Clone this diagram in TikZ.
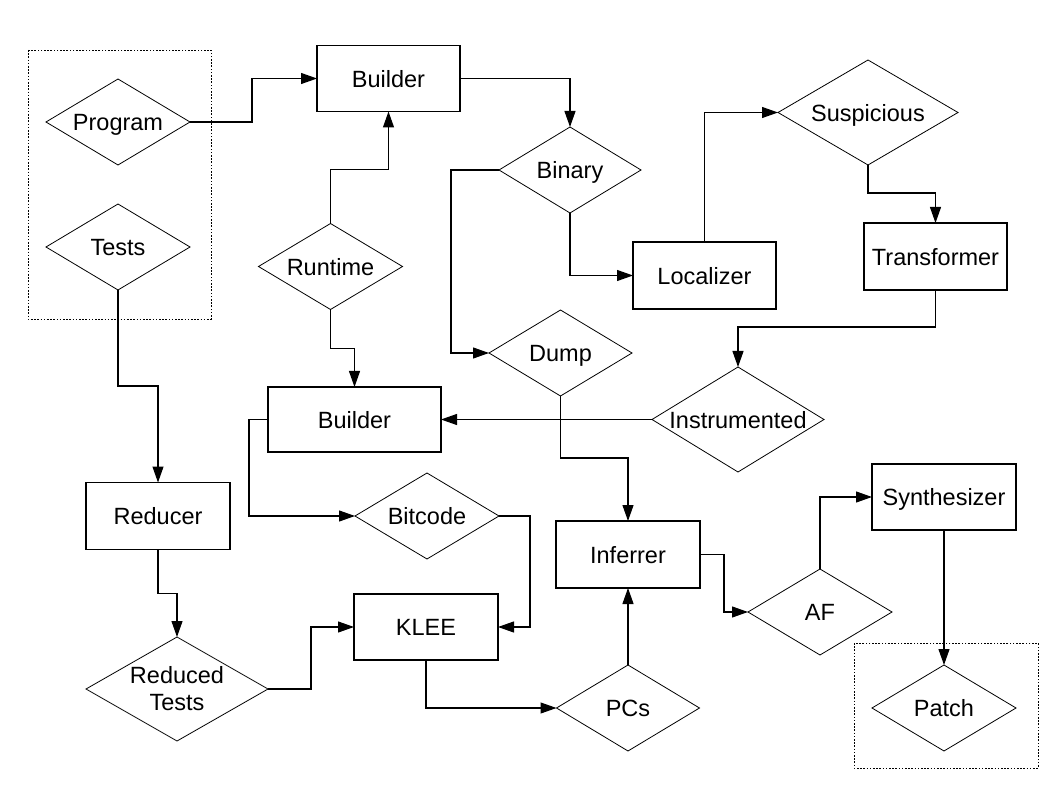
\documentclass[tikz,border=0pt]{standalone}
\usepackage{fontspec}
\setmainfont{Liberation Sans}
\usetikzlibrary{shapes.geometric,arrows.meta}
\tikzset{
  lbl/.style={font=\fontsize{23.5}{27}\selectfont, text=black},
  boxnode/.style={lbl, text depth=0pt, draw=black, line width=1.1pt, rectangle, inner sep=0pt, outer sep=0pt},
  dia/.style={lbl, text depth=0pt, draw=black, line width=0.8pt, diamond, aspect=1, inner sep=0pt, outer sep=0pt},
  dia2/.style={lbl, draw=black, line width=0.8pt, diamond, aspect=1, inner sep=0pt, outer sep=0pt},
  conn/.style={line width=1.1pt, -{Triangle[length=16pt,width=11pt]}},
  groupbox/.style={line width=0.8pt, dash pattern=on 1.6pt off 1.6pt}
}
\newcommand{\zt}[1]{\makebox[0pt]{#1}}
\begin{document}
\begin{tikzpicture}[x=1pt,y=-1pt]
\useasboundingbox (0,0) rectangle (1058,794);
% group boxes
\draw[groupbox] (28,50) rectangle (211,319);
\draw[groupbox] (854,643) rectangle (1038,768);
% nodes
\node[dia, minimum width=144, minimum height=86] (prog) at (118,122) {\zt{Program}};
\node[dia, minimum width=144, minimum height=86] (tests) at (118,247) {\zt{Tests}};
\node[boxnode, minimum width=143, minimum height=66] (b1) at (388.5,78.5) {Builder};
\node[dia, minimum width=142, minimum height=86] (bin) at (570,170) {\zt{Binary}};
\node[dia, minimum width=180, minimum height=105] (susp) at (868,112.5) {\zt{Suspicious}};
\node[boxnode, minimum width=143, minimum height=67] (loc) at (704.5,275.5) {Localizer};
\node[boxnode, minimum width=143, minimum height=67] (trans) at (935.5,256.5) {Transformer};
\node[dia, minimum width=144, minimum height=86] (rt) at (330.5,266.5) {\zt{Runtime}};
\node[dia, minimum width=143, minimum height=86] (dump) at (560.5,353) {\zt{Dump}};
\node[boxnode, minimum width=173, minimum height=65] (b2) at (354.5,419.5) {Builder};
\node[dia, minimum width=172, minimum height=105] (instr) at (738,419.5) {\zt{Instrumented}};
\node[boxnode, minimum width=144, minimum height=67] (red) at (158,516) {Reducer};
\node[dia, minimum width=144, minimum height=86] (bit) at (427,516) {\zt{Bitcode}};
\node[boxnode, minimum width=144, minimum height=67] (inf) at (628,554.5) {Inferrer};
\node[boxnode, minimum width=144, minimum height=66] (syn) at (944,497) {Synthesizer};
\node[dia, minimum width=144, minimum height=86] (af) at (820,612) {\zt{AF}};
\node[boxnode, minimum width=144, minimum height=66] (klee) at (426,627) {KLEE};
\node[dia2, minimum width=182, minimum height=104] (rtests) at (177,689) {\zt{\raisebox{-8.5pt}[0pt][0pt]{\begin{tabular}{@{}c@{}}Reduced\\Tests\end{tabular}}}};
\node[dia, minimum width=143, minimum height=86] (pcs) at (628,708) {\zt{PCs}};
\node[dia, minimum width=144, minimum height=86] (patch) at (944,708) {\zt{Patch}};
% connectors
\draw[conn] (prog.east) -- ++(62,0) |- (b1.west);
\draw[conn] (b1.east) -| (bin.north);
\draw[conn] (bin.west) -- ++(-48,0) |- (dump.west);
\draw[conn] (bin.south) |- (loc.west);
\draw[conn] (loc.north) |- (susp.west);
\draw[conn] (susp.south) -- ++(0,28) -| (trans.north);
\draw[conn] (trans.south) -- ++(0,37) -| (instr.north);
\draw[conn] (instr.west) -- (b2.east);
\draw[conn] (rt.north) -- ++(0,-54) -| (b1.south);
\draw[conn] (rt.south) -- ++(0,39) -| (b2.north);
\draw[conn] (tests.south) -- ++(0,96) -| (red.north);
\draw[conn] (b2.west) -- ++(-19,0) |- (bit.west);
\draw[conn] (bit.east) -- ++(31,0) |- (klee.east);
\draw[conn] (dump.south) -- ++(0,62) -| (inf.north);
\draw[conn] (red.south) -- ++(0,44) -| (rtests.north);
\draw[conn] (rtests.east) -- ++(43,0) |- (klee.west);
\draw[conn] (klee.south) |- (pcs.west);
\draw[conn] (pcs.north) -- (inf.south);
\draw[conn] (inf.east) -- ++(24,0) |- (af.west);
\draw[conn] (af.north) |- (syn.west);
\draw[conn] (syn.south) -- (patch.north);
\end{tikzpicture}
\end{document}
